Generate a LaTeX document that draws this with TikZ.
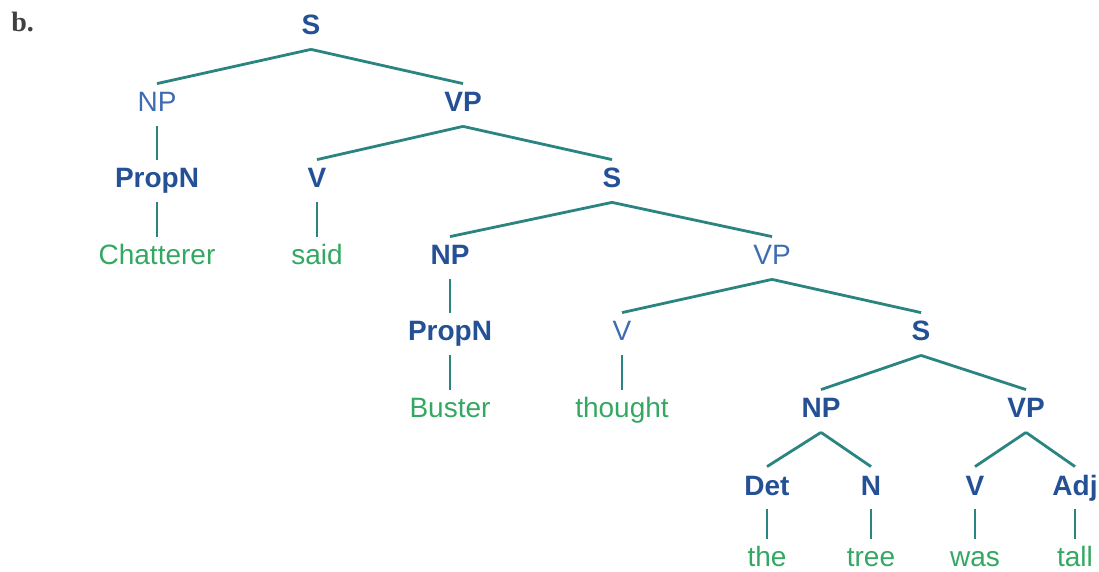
\documentclass[tikz,border=0pt]{standalone}
\usepackage{fontspec}
\newfontfamily\helv{Liberation Sans}
\newfontfamily\serf{Liberation Serif}
\definecolor{catblue}{RGB}{36,80,150}
\definecolor{catlight}{RGB}{62,108,178}
\definecolor{wordgreen}{RGB}{52,168,98}
\definecolor{branch}{RGB}{42,132,128}
\begin{document}
\begin{tikzpicture}[x=0.5pt,y=-0.5pt,
  lbl/.style={anchor=base,inner xsep=0pt,inner ysep=4pt,text height=10pt,text depth=3pt},
  cat/.style={lbl,text=catblue,font=\helv\bfseries\fontsize{14}{16}\selectfont},
  catl/.style={lbl,text=catlight,font=\helv\fontsize{14}{16}\selectfont},
  word/.style={lbl,text=wordgreen,font=\helv\fontsize{14}{16}\selectfont},
  br/.style={draw=branch,line width=1.4pt}]
  \useasboundingbox (0,0) rectangle (1099,572);
  \node[anchor=base west,inner sep=0pt,text=black!75,font=\serf\bfseries\fontsize{14}{16}\selectfont] (item) at (11,32) {b.};
  % categories
  \node[cat]  (s1)    at (311,35)  {S};
  \node[catl] (np1)   at (157,112) {NP};
  \node[cat]  (vp1)   at (463,112) {VP};
  \node[cat]  (pn1)   at (157,188) {PropN};
  \node[cat]  (v1)    at (317,188) {V};
  \node[cat]  (s2)    at (612,188) {S};
  \node[cat]  (np2)   at (450,265) {NP};
  \node[catl] (vp2)   at (772,265) {VP};
  \node[cat]  (pn2)   at (450,341) {PropN};
  \node[catl] (v2)    at (622,341) {V};
  \node[cat]  (s3)    at (921,341) {S};
  \node[cat]  (np3)   at (821,418) {NP};
  \node[cat]  (vp3)   at (1026,418) {VP};
  \node[cat]  (det)   at (767,495) {Det};
  \node[cat]  (n)     at (871,495) {N};
  \node[cat]  (v3)    at (975,495) {V};
  \node[cat]  (adj)   at (1075,495) {Adj};
  % words
  \node[word] (chat)  at (157,265) {Chatterer};
  \node[word] (said)  at (317,265) {said};
  \node[word] (bust)  at (450,418) {Buster};
  \node[word] (thou)  at (622,418) {thought};
  \node[word] (the)   at (767,567) {the};
  \node[word] (tree)  at (871,567) {tree};
  \node[word] (was)   at (975,567) {was};
  \node[word] (tall)  at (1075,567) {tall};
  \foreach \a/\b in {s1/np1,s1/vp1,np1/pn1,pn1/chat,vp1/v1,vp1/s2,v1/said,
                     s2/np2,s2/vp2,np2/pn2,pn2/bust,vp2/v2,vp2/s3,v2/thou,
                     s3/np3,s3/vp3,np3/det,np3/n,vp3/v3,vp3/adj,
                     det/the,n/tree,v3/was,adj/tall}
    \draw[br] (\a.south) -- (\b.north);
\end{tikzpicture}
\end{document}
